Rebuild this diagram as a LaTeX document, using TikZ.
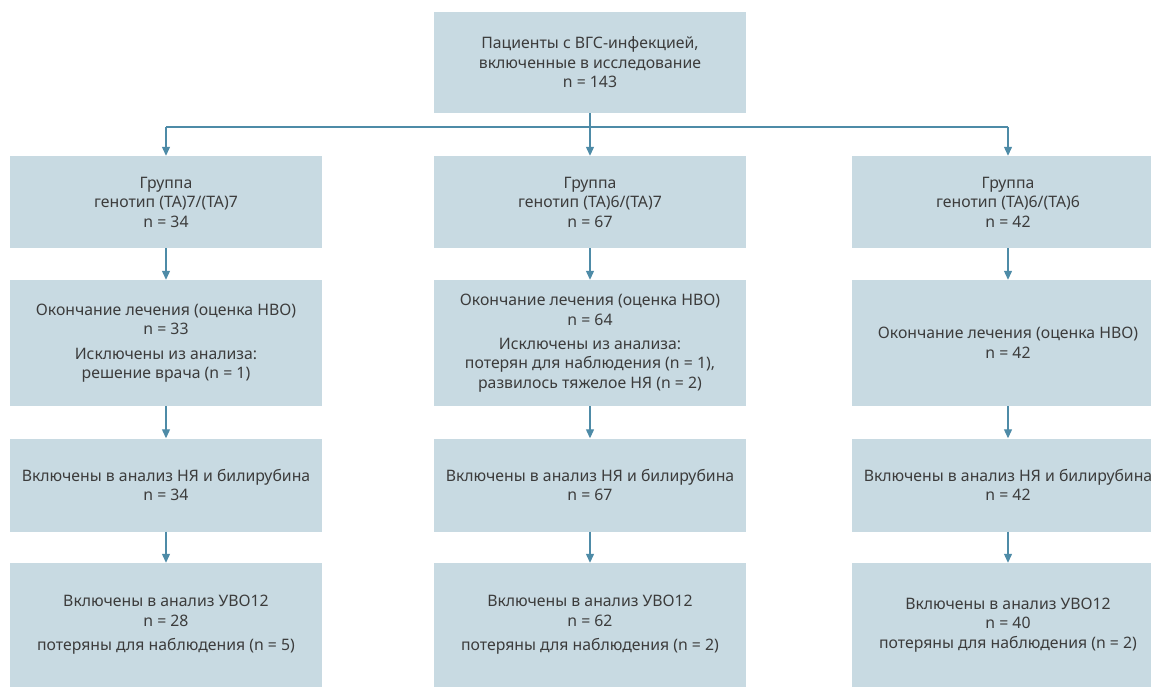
\documentclass[tikz,border=0pt]{standalone}
\usepackage{fontspec}
\setmainfont{Noto Sans}
\usetikzlibrary{arrows.meta}
\definecolor{boxfill}{HTML}{C8DAE2}
\definecolor{linec}{HTML}{4E8BA7}
\definecolor{txt}{HTML}{3C3C3C}
\begin{document}
\begin{tikzpicture}[x=1pt,y=-1pt,
  box/.style={fill=boxfill, draw=none, inner sep=0pt, text=txt, align=center,
    font=\fontsize{15.8}{19.5}\selectfont, minimum width=312pt},
  conn/.style={draw=linec, line width=1.2pt, -{Triangle[width=8pt,length=9pt]}},
  plain/.style={draw=linec, line width=1.2pt}]
\useasboundingbox (0,0) rectangle (1151,687);
\clip (0,0) rectangle (1151,687);
% top
\node[box, minimum height=101pt] (top) at (590,62.5) {Пациенты с ВГС-инфекцией,\\включенные в исследование\\n = 143};
% row 1
\node[box, minimum height=92pt] (g1) at (166,202) {Группа\\генотип (ТА)7/(ТА)7\\n = 34};
\node[box, minimum height=92pt] (g2) at (590,202) {Группа\\генотип (ТА)6/(ТА)7\\n = 67};
\node[box, minimum height=92pt] (g3) at (1008,202) {Группа\\генотип (ТА)6/(ТА)6\\n = 42};
% row 2
\node[box, minimum height=126pt] (e1) at (166,343) {Окончание лечения (оценка НВО)\\n = 33\\[5pt]Исключены из анализа:\\решение врача (n = 1)};
\node[box, minimum height=126pt] (e2) at (590,343) {Окончание лечения (оценка НВО)\\n = 64\\[4.5pt]Исключены из анализа:\\потерян для наблюдения (n = 1),\\развилось тяжелое НЯ (n = 2)};
\node[box, minimum height=126pt] (e3) at (1008,343) {Окончание лечения (оценка НВО)\\n = 42};
% row 3
\node[box, minimum height=93pt] (b1) at (166,485) {Включены в анализ НЯ и билирубина\\n = 34};
\node[box, minimum height=93pt] (b2) at (590,485) {Включены в анализ НЯ и билирубина\\n = 67};
\node[box, minimum height=93pt] (b3) at (1008,485) {Включены в анализ НЯ и билирубина\\n = 42};
% row 4
\node[box, minimum height=124pt] (u1) at (166,625) {Включены в анализ УВО12\\n = 28\\[5pt]потеряны для наблюдения (n = 5)};
\node[box, minimum height=124pt] (u2) at (590,625) {Включены в анализ УВО12\\n = 62\\[5pt]потеряны для наблюдения (n = 2)};
\node[box, minimum height=124pt] (u3) at (1008,625) {Включены в анализ УВО12\\n = 40\\потеряны для наблюдения (n = 2)};
% connectors
\coordinate (hl) at (166,127);
\coordinate (hr) at (1008,127);
\draw[plain] (hl) -- (hr);
\draw[conn] (top) -- (g2);
\draw[conn] (hl) -- (g1.north);
\draw[conn] (hr) -- (g3.north);
\foreach \c in {1,2,3} {
  \draw[conn] (g\c) -- (e\c);
  \draw[conn] (e\c) -- (b\c);
  \draw[conn] (b\c) -- (u\c);
}
\end{tikzpicture}
\end{document}
